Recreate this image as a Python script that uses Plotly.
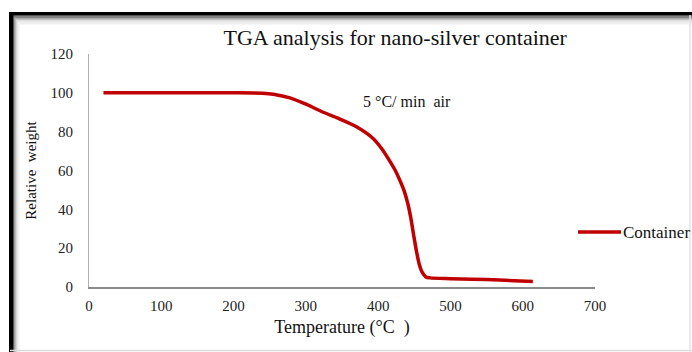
import plotly.graph_objects as go

temperature = [20, 100, 200, 240, 255, 278, 301, 324, 347, 370, 393, 405, 415, 423, 430, 436, 441, 445, 449, 453, 457, 461, 466, 472, 500, 530, 568, 614]
weight = [100, 100, 100, 99.8, 99.3, 97.4, 94, 90, 86.5, 82.5, 76.5, 71.2, 65.5, 60.5, 55, 49.5, 43, 36, 27, 18.5, 11.5, 7.5, 5.2, 4.7, 4.3, 4.0, 3.6, 2.8]
x_ticks = [0, 100, 200, 300, 400, 500, 600, 700]
y_ticks = [0, 20, 40, 60, 80, 100, 120]

W, H = 692, 352
L, R, T, B = 89, 97, 54, 65
PW, PH = W - L - R, H - T - B

def px(x):
    return (x - L) / PW

def py(y):
    return (H - B - y) / PH

SERIF = "Liberation Serif, Times New Roman, serif"
RED = "#c00000"

fig = go.Figure()
fig.add_trace(go.Scatter(
    x=temperature, y=weight, mode="lines", name="Container",
    line=dict(color=RED, width=3.5, shape="spline", smoothing=0.8),
))

shapes = []
shapes.append(dict(type="rect", xref="paper", yref="paper", x0=px(9), x1=px(W + 5), y0=py(12), y1=py(15.5),
                   fillcolor="black", line=dict(width=0), layer="above"))
shapes.append(dict(type="rect", xref="paper", yref="paper", x0=px(9), x1=px(13.5), y0=py(12), y1=py(H + 5),
                   fillcolor="black", line=dict(width=0), layer="above"))
grays = ["#555", "#888", "#aaa", "#c4c4c4", "#d8d8d8", "#e6e6e6", "#efefef", "#f6f6f6"]
for i, g in enumerate(grays):
    shapes.append(dict(type="rect", xref="paper", yref="paper", x0=px(13.5 + i), x1=px(W + 5),
                       y0=py(15.5 + i * 1.2), y1=py(15.5 + (i + 1) * 1.2), fillcolor=g, line=dict(width=0), layer="below"))
    shapes.append(dict(type="rect", xref="paper", yref="paper", x0=px(13.5 + i * 0.8), x1=px(13.5 + (i + 1) * 0.8),
                       y0=py(15.5 + i * 1.2), y1=py(H + 5), fillcolor=g, line=dict(width=0), layer="below"))
shapes.append(dict(type="line", xref="paper", yref="paper", x0=px(10), x1=px(W), y0=py(350.5), y1=py(350.5),
                   line=dict(color="#dcdcdc", width=1.5)))
shapes.append(dict(type="line", xref="paper", yref="paper", x0=px(690), x1=px(690), y0=py(15), y1=py(H),
                   line=dict(color="#e4e4e4", width=1.5)))
# legend sample line
shapes.append(dict(type="line", xref="paper", yref="paper", x0=px(578), x1=px(621), y0=py(232), y1=py(232),
                   line=dict(color=RED, width=3.5)))

fig.update_layout(
    width=W, height=H,
    margin=dict(l=L, r=R, t=T, b=B),
    paper_bgcolor="white", plot_bgcolor="white",
    font=dict(family=SERIF, size=15, color="#222"),
    title=dict(text="TGA analysis for nano-silver container", x=px(378), xanchor="center",
               y=1 - 37 / H, yanchor="middle", font=dict(family=SERIF, size=22, color="#111")),
    xaxis=dict(range=[0, 700], tickvals=x_ticks, showgrid=False, zeroline=False,
               showline=True, linecolor="#8a8a8a", linewidth=2, ticks="",
               ticklabelstandoff=4,
               tickfont=dict(family=SERIF, size=15, color="#222"),
               title=dict(text="Temperature (°C  )", font=dict(family=SERIF, size=18, color="#111"), standoff=7)),
    yaxis=dict(range=[0, 120], tickvals=y_ticks, showgrid=False, zeroline=False,
               showline=True, linecolor="#b0b0b0", linewidth=1, ticks="",
               ticklabelstandoff=12,
               tickfont=dict(family=SERIF, size=15, color="#222"),
               title=dict(text="Relative  weight", font=dict(family=SERIF, size=15, color="#111"), standoff=10)),
    showlegend=False,
    annotations=[
        dict(text="5 °C/ min  air", xref="paper", yref="paper", x=px(407), y=py(101),
             xanchor="center", yanchor="middle", showarrow=False,
             font=dict(family=SERIF, size=16, color="#111")),
        dict(text="Container", xref="paper", yref="paper", x=px(621), y=py(232),
             xanchor="left", yanchor="middle", showarrow=False,
             font=dict(family=SERIF, size=17, color="#111")),
    ],
    shapes=shapes,
)

fig.write_html("out.html")
